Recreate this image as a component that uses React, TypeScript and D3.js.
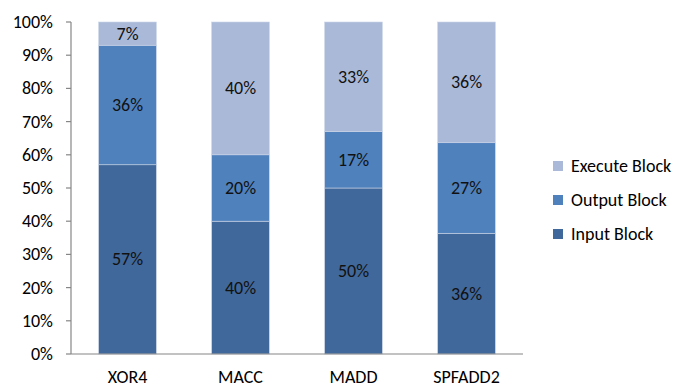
import React from "react";
import * as d3 from "d3";

const categories = ["XOR4", "MACC", "MADD", "SPFADD2"];
const seriesNames = ["Input Block", "Output Block", "Execute Block"];
const inputBlock = [57, 40, 50, 36];
const outputBlock = [36, 20, 17, 27];
const executeBlock = [7, 40, 33, 36];
const yTicks = [0, 0.1, 0.2, 0.3, 0.4, 0.5, 0.6, 0.7, 0.8, 0.9, 1];
const colors = ["#41689A", "#4F81BD", "#AAB9D7"];

const W = 676;
const H = 387;
const margin = { left: 71, right: 153, top: 22, bottom: 33 };
const FONT = "Carlito, Calibri, 'Open Sans', sans-serif";

export default function App() {
  const rows = categories.map((c, i) => ({
    cat: c,
    "Input Block": inputBlock[i],
    "Output Block": outputBlock[i],
    "Execute Block": executeBlock[i],
  }));
  const stack = d3.stack<any>().keys(seriesNames).offset(d3.stackOffsetExpand);
  const layers = stack(rows);

  const x = d3
    .scaleBand()
    .domain(categories)
    .range([margin.left, W - margin.right])
    .paddingInner(0.49)
    .paddingOuter(0.245);
  const y = d3.scaleLinear().domain([0, 1]).range([H - margin.bottom, margin.top]);
  const fmt = d3.format(".0%");

  return (
    <svg width={W} height={H} style={{ position: "absolute", left: 0, top: 0, background: "#fff" }}>
      <g fontFamily={FONT} fontSize={18} fill="#000">
        {layers.map((layer, li) => (
          <g key={layer.key}>
            {layer.map((d, i) => {
              const y0 = y(d[0]);
              const y1 = y(d[1]);
              const raw = (d.data as any)[layer.key] as number;
              return (
                <g key={i}>
                  <rect
                    x={x(categories[i])}
                    width={x.bandwidth()}
                    y={y1}
                    height={y0 - y1}
                    fill={colors[li]}
                    stroke="#c9d4e6"
                    strokeWidth={0.6}
                  />
                  <text
                    x={(x(categories[i]) as number) + x.bandwidth() / 2}
                    y={(y0 + y1) / 2}
                    textAnchor="middle"
                    dominantBaseline="central"
                    fill="#111"
                  >
                    {raw}%
                  </text>
                </g>
              );
            })}
          </g>
        ))}

        {/* value axis */}
        <line x1={margin.left} x2={margin.left} y1={y(1)} y2={y(0)} stroke="#868686" strokeWidth={1.2} />
        {yTicks.map((t) => (
          <g key={t}>
            <line x1={margin.left - 5} x2={margin.left} y1={y(t)} y2={y(t)} stroke="#868686" strokeWidth={1.2} />
            <text x={margin.left - 18} y={y(t)} textAnchor="end" dominantBaseline="central">
              {fmt(t)}
            </text>
          </g>
        ))}

        {/* category axis */}
        <line x1={margin.left} x2={W - margin.right} y1={y(0)} y2={y(0)} stroke="#868686" strokeWidth={1.2} />
        {categories.map((c) => (
          <text
            key={c}
            x={(x(c) as number) + x.bandwidth() / 2}
            y={377}
            textAnchor="middle"
            dominantBaseline="central"
          >
            {c}
          </text>
        ))}

        {/* legend */}
        {[...seriesNames].reverse().map((s, i) => {
          const ly = 166 + i * 34;
          const ci = seriesNames.indexOf(s);
          return (
            <g key={s}>
              <rect x={553} y={ly - 5} width={10} height={10} fill={colors[ci]} />
              <text x={571} y={ly} dominantBaseline="central">
                {s}
              </text>
            </g>
          );
        })}
      </g>
    </svg>
  );
}
